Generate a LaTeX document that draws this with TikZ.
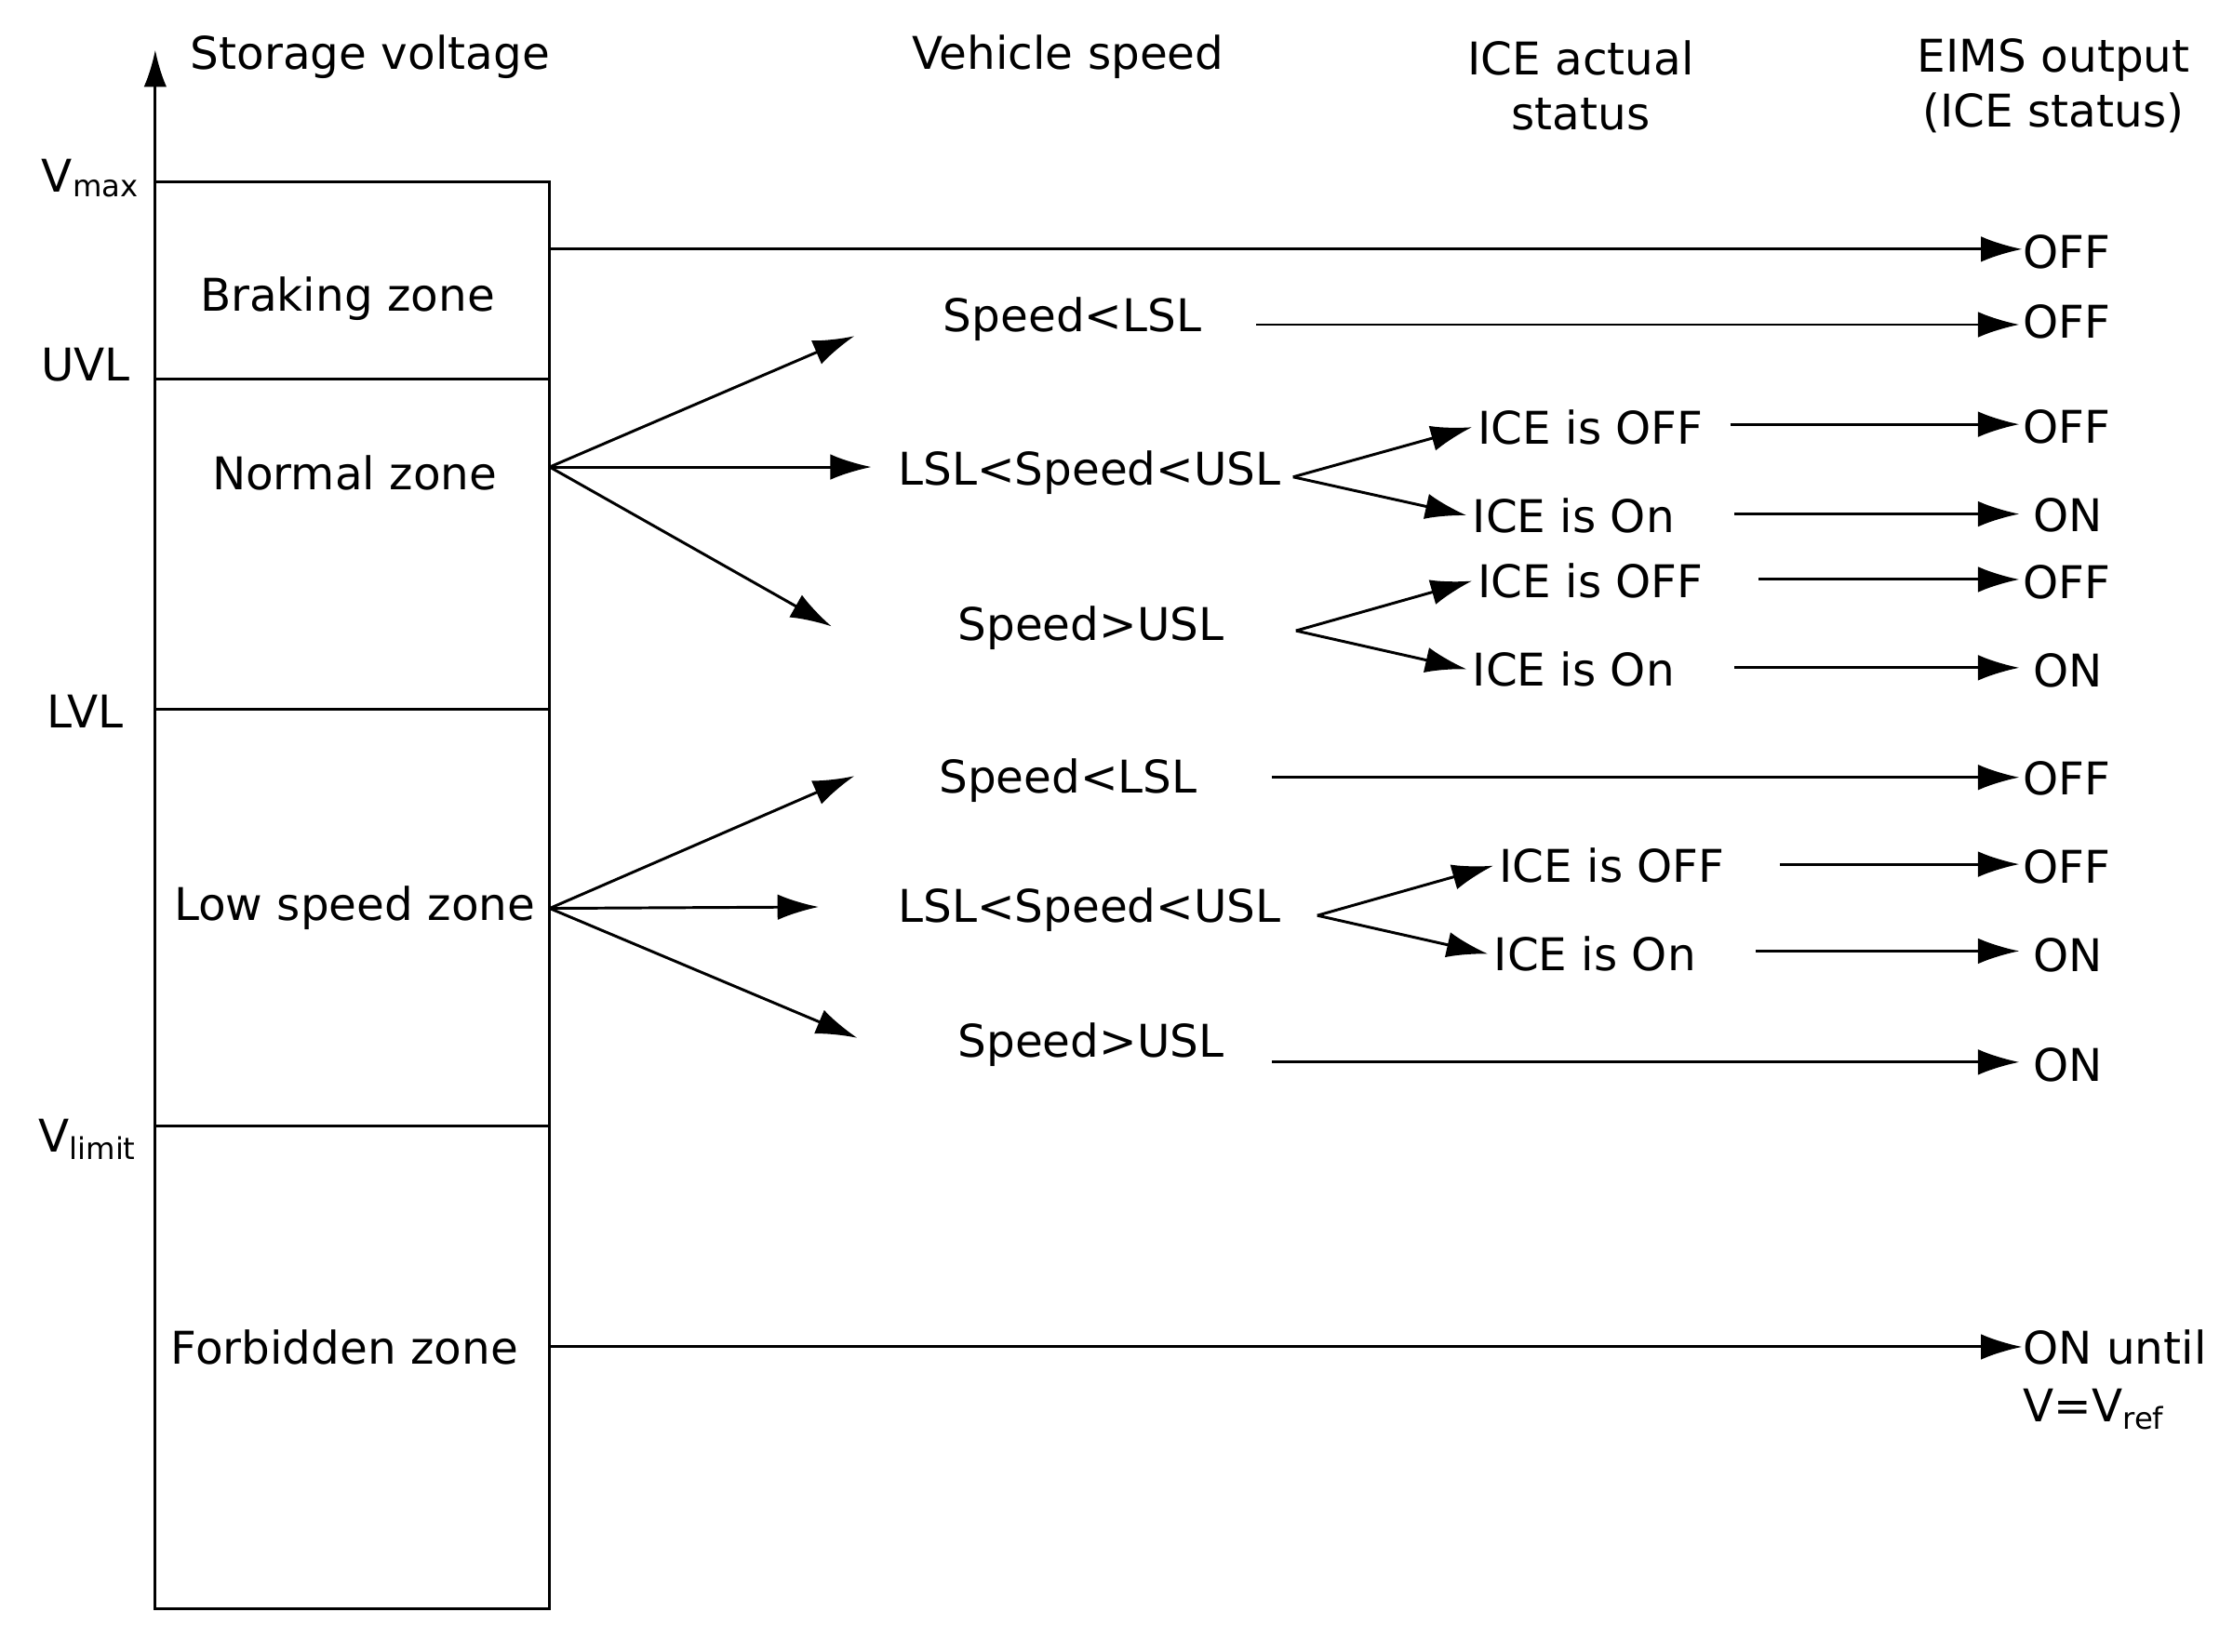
\documentclass[tikz,border=0pt]{standalone}
\usepackage{fontspec}
\setmainfont{DejaVu Sans}
\usetikzlibrary{arrows.meta}
\begin{document}
\begin{tikzpicture}[x=0.01cm,y=-0.01cm,
  every node/.style={font=\fontsize{9}{11}\selectfont,inner sep=1pt},
  arr/.style={-{Latex[length=2.9mm,width=1.8mm]},line width=0.55pt},
  ln/.style={line width=0.55pt},
  eout/.style={anchor=west,inner sep=0pt}]
\useasboundingbox (0,0) rectangle (1568,1160);
% axis and box
\coordinate (ab) at (109,1130);
\coordinate (at) at (109,35);
\draw[ln,-{Latex[length=2.6mm,width=1.6mm]}] (ab) -- (at);
\draw[ln] (109,128) rectangle (386,1130);
\draw[ln] (109,266) -- (386,266);
\draw[ln] (109,498) -- (386,498);
\draw[ln] (109,791) -- (386,791);
% left labels
\node (vmax) at (64,125) {V\textsubscript{max}};
\node (uvl) at (60,256) {UVL};
\node (lvl) at (60,500) {LVL};
\node (vlim) at (62,800) {V\textsubscript{limit}};
% headers
\node (h1) at (260,40) {Storage voltage};
\node (h2) at (750,40) {Vehicle speed};
\node[align=center] (h3) at (1110,60) {ICE actual\\status};
\node[align=center] (h4) at (1442,60) {EIMS output\\(ICE status)};
% zones
\node (bz) at (244,210) {Braking zone};
\node (nz) at (249,332) {Normal zone};
\node (lz) at (249,638) {Low speed zone};
\node (fz) at (242,946) {Forbidden zone};
\coordinate (bo) at (386,175);
\coordinate (no) at (386,328);
\coordinate (lo) at (386,638);
\coordinate (fo) at (386,946);
% outputs
\node[eout] (o1) at (1420,177) {OFF};
\node[eout] (o2) at (1420,226) {OFF};
\node[eout] (o3) at (1420,300) {OFF};
\node[eout] (o4) at (1422,362) {\,ON};
\node[eout] (o5) at (1420,409) {OFF};
\node[eout] (o6) at (1422,471) {\,ON};
\node[eout] (o7) at (1420,547) {OFF};
\node[eout] (o8) at (1420,609) {OFF};
\node[eout] (o9) at (1422,671) {\,ON};
\node[eout] (o10) at (1422,748) {\,ON};
\node[eout] (o11) at (1420,946) {ON until};
\node[eout] (o12) at (1420,990) {V=V\textsubscript{ref}};
% speed nodes
\node (s1) at (753,224) {Speed<LSL};
\node (s2) at (765,332) {LSL<Speed<USL};
\node (s3) at (766,441) {Speed>USL};
\node (s4) at (750,548) {Speed<LSL};
\node (s5) at (765,639) {LSL<Speed<USL};
\node (s6) at (766,734) {Speed>USL};
% ICE nodes
\node (i1) at (1117,300) {ICE is OFF};
\node (i2) at (1105,362) {ICE is On};
\node (i3) at (1117,408) {ICE is OFF};
\node (i4) at (1105,470) {ICE is On};
\node (i5) at (1132,608) {ICE is OFF};
\node (i6) at (1120,670) {ICE is On};
% fans
\draw[arr] (no) -- (600,236);
\draw[arr] (no) -- (612,328);
\draw[arr] (no) -- (584,440);
\draw[arr] (lo) -- (600,545);
\draw[arr] (lo) -- (575,637);
\draw[arr] (lo) -- (602,729);
% branches
\draw[arr] (908,335) -- (i1.west);
\draw[arr] (908,335) -- (i2.west);
\draw[arr] (910,443) -- (i3.west);
\draw[arr] (910,443) -- (i4.west);
\draw[arr] (925,643) -- (i5.west);
\draw[arr] (925,643) -- (i6.west);
% to outputs
\draw[arr] (bo) -- (bo -| o1.west);
\draw[arr] (882,228) -- (1418,228);
\draw[arr] (1215,298) -- (1418,298);
\draw[arr] (1218,361) -- (1418,361);
\draw[arr] (1235,407) -- (1418,407);
\draw[arr] (1218,469) -- (1418,469);
\draw[arr] (893,546) -- (1418,546);
\draw[arr] (1250,607) -- (1418,607);
\draw[arr] (1233,668) -- (1418,668);
\draw[arr] (893,746) -- (1418,746);
\draw[arr] (fo) -- (fo -| o11.west);
\end{tikzpicture}
\end{document}
